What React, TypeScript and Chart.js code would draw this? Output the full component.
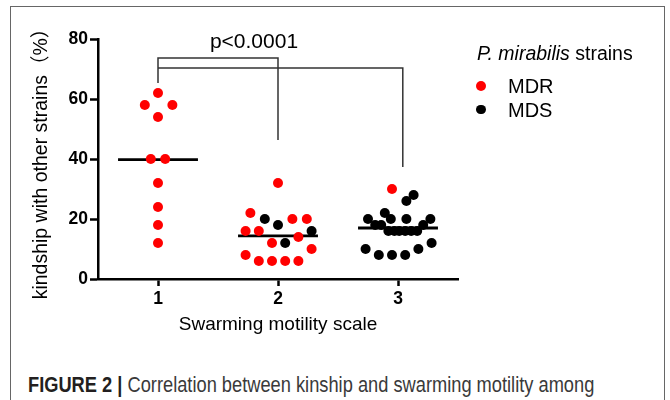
import React, { useEffect, useRef } from "react";
import { Chart, registerables } from "chart.js";

Chart.register(...registerables);

// ---- data ----
const xTicks = [1, 2, 3];
const yMin = 0;
const yMax = 80;
const yStep = 20;

// MDR strains (red): x = swarming scale position (with jitter), y = kinship %
const mdrG1X = [1.0, 0.89, 1.12, 1.0, 0.94, 1.06, 1.0, 1.0, 1.0, 1.0];
const mdrG1Y = [62, 58, 58, 54, 40, 40, 32, 24, 18, 12];
const mdrG2X = [2.0, 1.77, 2.12, 2.24, 1.73, 1.84, 2.17, 1.95, 2.28, 1.73, 1.84, 1.95, 2.06, 2.17];
const mdrG2Y = [32, 22, 20, 20, 16, 16, 14, 12, 10, 8, 6, 6, 6, 6];
const mdrG3X = [2.95];
const mdrG3Y = [30];

// MDS strains (black)
const mdsG2X = [1.89, 2.0, 2.28, 2.06];
const mdsG2Y = [20, 18, 16, 12];
const mdsG3X = [3.13, 3.07, 2.89, 2.75, 2.94, 3.07, 3.27, 2.81, 2.86, 3.21, 2.92, 2.97, 3.01, 3.06, 3.11, 3.16, 2.73, 2.84, 2.95, 3.06, 3.17, 3.28];
const mdsG3Y = [28, 26, 22, 20, 20, 20, 20, 18, 18, 18, 16, 16, 16, 16, 16, 16, 10, 8, 8, 8, 10, 12];

// group means (horizontal bars)
const groupCenters = [1, 2, 3];
const groupMeans = [39.8, 14.4, 17.0];
const meanHalfWidth = 0.333;

// significance brackets
const bracket1X = [1, 1, 2, 2];
const bracket1Y = [65.3, 73.7, 73.7, 46.3];
const bracket2X = [1, 3.04, 3.04];
const bracket2Y = [70.3, 70.3, 37.3];
const pLabelText = "p<0.0001";
const pLabelPos = [1.8, 76.9];

const FONT = '"Liberation Sans", Arial, "Noto Sans CJK SC", sans-serif';

const toPts = (xs: number[], ys: number[]) => xs.map((x, i) => ({ x, y: ys[i] }));

const pLabelPlugin = {
  id: "pLabel",
  afterDatasetsDraw(chart: any) {
    const { ctx, scales } = chart;
    ctx.save();
    ctx.font = `21px ${FONT}`;
    ctx.fillStyle = "#000";
    ctx.textAlign = "center";
    ctx.textBaseline = "alphabetic";
    ctx.fillText(
      pLabelText,
      scales.x.getPixelForValue(pLabelPos[0]),
      scales.y.getPixelForValue(pLabelPos[1])
    );
    ctx.restore();
  },
};

export default function App() {
  const canvasRef = useRef<HTMLCanvasElement | null>(null);

  useEffect(() => {
    if (!canvasRef.current) return;
    const red = "rgb(255,0,0)";
    const pointDs = (data: any[], color: string) => ({
      type: "scatter" as const,
      data,
      pointRadius: 5,
      pointHoverRadius: 5,
      pointBackgroundColor: color,
      pointBorderWidth: 0,
      borderColor: color,
      showLine: false,
      order: 0,
    });
    const lineDs = (data: any[], width: number, color: string) => ({
      type: "scatter" as const,
      data,
      showLine: true,
      borderColor: color,
      borderWidth: width,
      pointRadius: 0,
      pointHoverRadius: 0,
      fill: false,
      order: 1,
    });

    const meanSets = groupCenters.map((c, i) =>
      lineDs(
        [
          { x: c - meanHalfWidth, y: groupMeans[i] },
          { x: c + meanHalfWidth, y: groupMeans[i] },
        ],
        2.8,
        "#000"
      )
    );

    const chart = new Chart(canvasRef.current, {
      type: "scatter",
      data: {
        datasets: [
          pointDs(toPts(mdrG1X, mdrG1Y), red),
          pointDs(toPts(mdrG2X, mdrG2Y), red),
          pointDs(toPts(mdrG3X, mdrG3Y), red),
          pointDs(toPts(mdsG2X, mdsG2Y), "#000"),
          pointDs(toPts(mdsG3X, mdsG3Y), "#000"),
          ...meanSets,
          lineDs(toPts(bracket1X, bracket1Y), 1.5, "#333"),
          lineDs(toPts(bracket2X, bracket2Y), 1.5, "#333"),
        ] as any,
      },
      options: {
        responsive: false,
        animation: false,
        layout: { padding: { left: 0, top: 39, right: 212, bottom: 0 } },
        plugins: {
          legend: { display: false },
          tooltip: { enabled: false },
        },
        scales: {
          x: {
            type: "linear",
            min: 0.5,
            max: 3.5,
            afterBuildTicks: (axis: any) => {
              axis.ticks = xTicks.map((v) => ({ value: v }));
            },
            afterFit: (axis: any) => {
              axis.height = 66;
            },
            ticks: {
              color: "#000",
              padding: 3,
              font: { family: FONT, size: 17.5, weight: "bold" },
            },
            grid: {
              drawOnChartArea: false,
              drawTicks: true,
              tickLength: 7,
              tickWidth: 2.5,
              tickColor: "#000",
            },
            border: { display: true, color: "#000", width: 2.5 },
            title: {
              display: true,
              text: "Swarming motility scale",
              color: "#000",
              font: { family: FONT, size: 19 },
              padding: { top: 0, bottom: 9 },
            },
          },
          y: {
            type: "linear",
            min: yMin,
            max: yMax,
            afterFit: (axis: any) => {
              axis.width = 98;
            },
            ticks: {
              stepSize: yStep,
              color: "#000",
              padding: 2,
              font: { family: FONT, size: 17.5, weight: "bold" },
            },
            grid: {
              drawOnChartArea: false,
              drawTicks: true,
              tickLength: 8,
              tickWidth: 2.5,
              tickColor: "#000",
            },
            border: { display: true, color: "#000", width: 2.5 },
            title: {
              display: true,
              text: "kindship with other strains（%）",
              color: "#000",
              font: { family: FONT, size: 19.5 },
              padding: { top: 30, bottom: 0 },
            },
          },
        },
      },
      plugins: [pLabelPlugin],
    });
    return () => chart.destroy();
  }, []);

  const legendText: React.CSSProperties = {
    position: "absolute",
    fontFamily: FONT,
    color: "#000",
    whiteSpace: "nowrap",
  };

  return (
    <div
      style={{
        position: "fixed",
        left: 0,
        top: 0,
        width: 670,
        height: 400,
        background: "#fff",
        overflow: "hidden",
        fontFamily: FONT,
      }}
    >
      <div
        style={{
          position: "absolute",
          left: 10,
          top: 6,
          width: 655,
          height: 430,
          border: "1.5px solid #666",
          boxSizing: "border-box",
        }}
      />
      <canvas
        ref={canvasRef}
        width={670}
        height={345}
        style={{ position: "absolute", left: 0, top: 0, width: 670, height: 345 }}
      />
      <div style={{ ...legendText, left: 477, top: 44, fontSize: 19.5, lineHeight: "19.5px" }}>
        <i>P. mirabilis</i> strains
      </div>
      <div
        style={{
          position: "absolute",
          left: 476,
          top: 80.7,
          width: 10,
          height: 10,
          borderRadius: "50%",
          background: "rgb(255,0,0)",
        }}
      />
      <div style={{ ...legendText, left: 508, top: 75.8, fontSize: 20, lineHeight: "20px" }}>MDR</div>
      <div
        style={{
          position: "absolute",
          left: 476,
          top: 104.5,
          width: 9.6,
          height: 9.6,
          borderRadius: "50%",
          background: "#000",
        }}
      />
      <div style={{ ...legendText, left: 508, top: 99.8, fontSize: 20, lineHeight: "20px" }}>MDS</div>
      <div
        style={{
          position: "absolute",
          left: 28,
          top: 374,
          fontSize: 22,
          lineHeight: "22px",
          whiteSpace: "nowrap",
          transform: "scaleX(0.83)",
          transformOrigin: "left top",
          color: "#3a3a3a",
        }}
      >
        <b style={{ color: "#231f20" }}>FIGURE 2 | </b>Correlation between kinship and swarming motility among
      </div>
    </div>
  );
}
